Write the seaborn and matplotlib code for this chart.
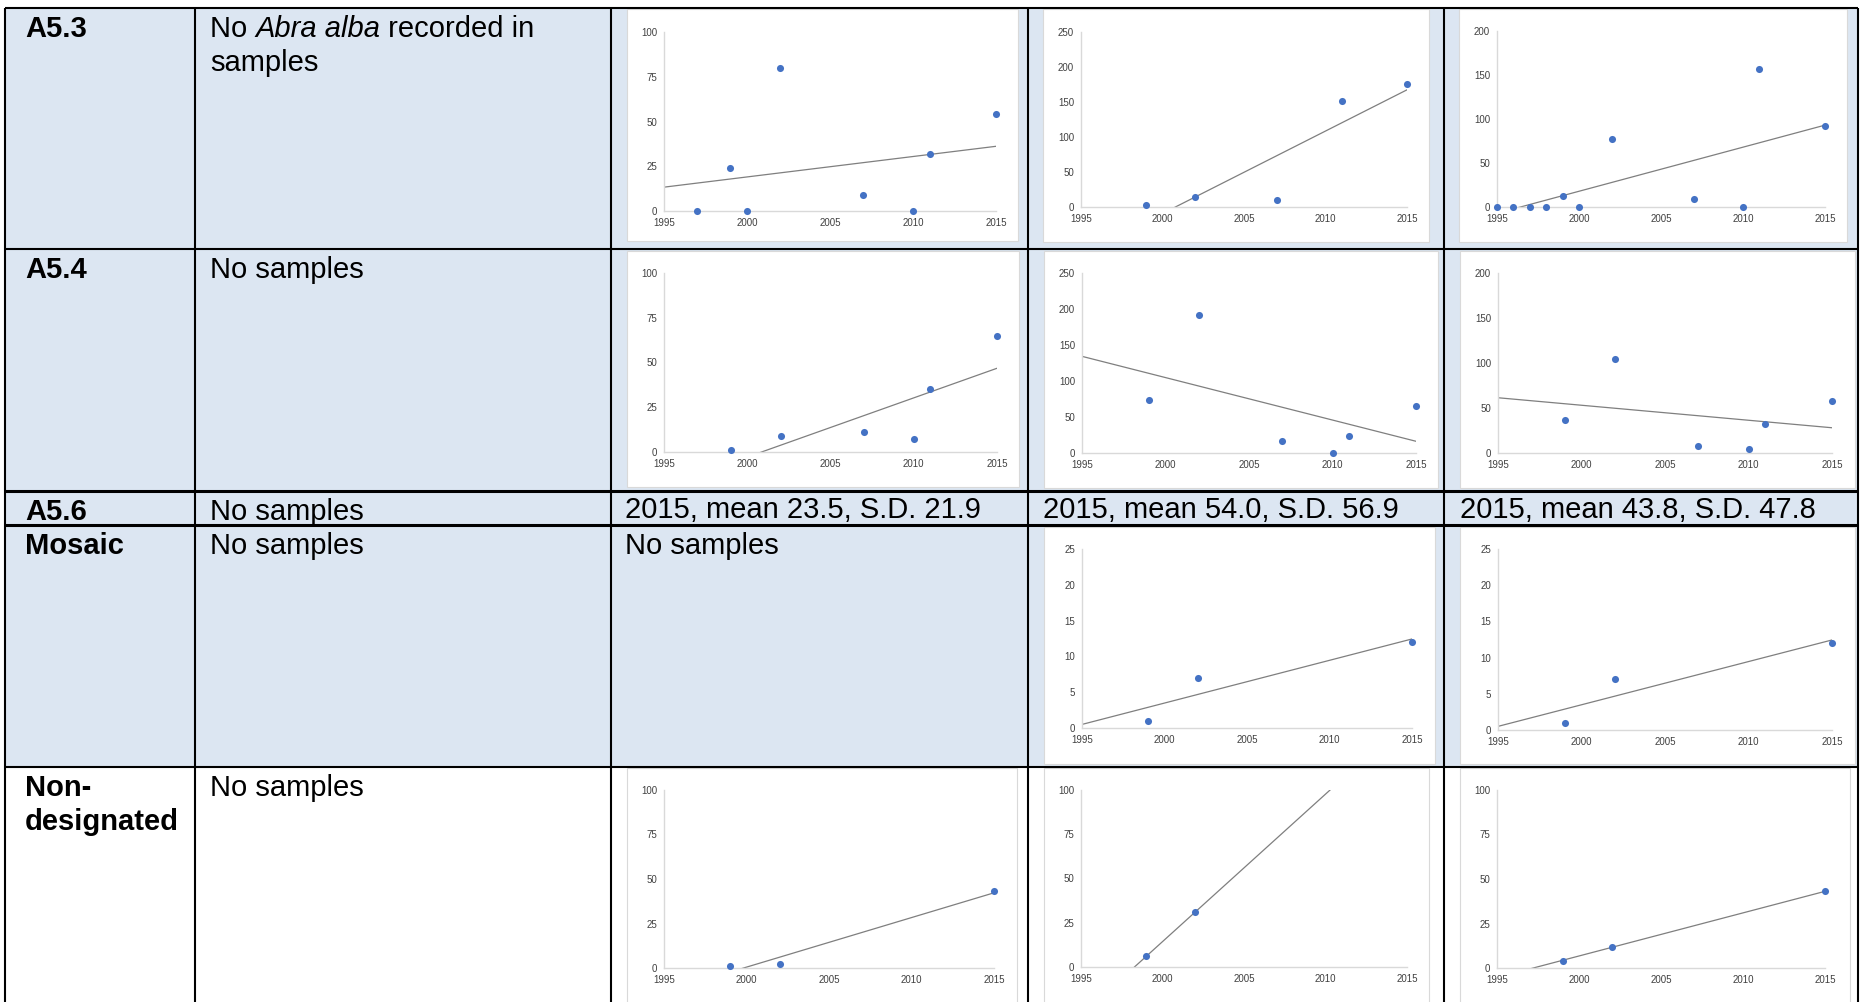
import numpy as np
import matplotlib
matplotlib.use("Agg")
import matplotlib.pyplot as plt
import seaborn as sns
from matplotlib.patches import Rectangle

# ---------------- data ----------------
row_labels = ["A5.3", "A5.4", "A5.6", "Mosaic", "Non-\ndesignated"]
a56_notes = ["2015, mean 23.5, S.D. 21.9",
             "2015, mean 54.0, S.D. 56.9",
             "2015, mean 43.8, S.D. 47.8"]

# A5.3 row
a53_c3_years = [1997, 1999, 2000, 2002, 2007, 2010, 2011, 2015]
a53_c3_vals = [0, 24, 0, 80, 9, 0, 32, 54]
a53_c4_years = [1999, 2002, 2007, 2011, 2015]
a53_c4_vals = [3, 14, 10, 151, 176]
a53_c5_years = [1995, 1996, 1997, 1998, 1999, 2000, 2002, 2007, 2010, 2011, 2015]
a53_c5_vals = [0, 0, 0, 0, 12, 0, 77, 9, 0, 157, 92]

# A5.4 row
a54_c3_years = [1999, 2002, 2007, 2010, 2011, 2015]
a54_c3_vals = [1, 9, 11, 7.5, 35, 65]
a54_c4_years = [1999, 2002, 2007, 2010, 2011, 2015]
a54_c4_vals = [73, 191, 16, 0, 24, 65]
a54_c5_years = [1999, 2002, 2007, 2010, 2011, 2015]
a54_c5_vals = [37, 105, 8, 5, 32, 58]

# Mosaic row
mosaic_c4_years = [1999, 2002, 2015]
mosaic_c4_vals = [1, 7, 12]
mosaic_c5_years = [1999, 2002, 2015]
mosaic_c5_vals = [1, 7, 12]

# Non-designated row
nondes_c3_years = [1999, 2002, 2015]
nondes_c3_vals = [1, 2, 43]
nondes_c4_years = [1999, 2002]
nondes_c4_vals = [6, 31]
nondes_c5_years = [1999, 2002, 2015]
nondes_c5_vals = [4, 12, 43]

x_ticks = [1995, 2000, 2005, 2010, 2015]

# ---------------- layout (pixels) ----------------
W, H = 1861, 1002
row_edges = [8, 249, 491, 525, 767, 1002]
col_edges = [5, 195, 611, 1028, 1444, 1858]
blue = "#DCE6F2"

# (row, col, years, values, y max, y step, chart box, plot area)
charts = [
    (0, 2, a53_c3_years, a53_c3_vals, 100, 25, (627, 9, 1018, 241), (664, 32, 996, 211)),
    (0, 3, a53_c4_years, a53_c4_vals, 250, 50, (1043, 9, 1429, 242), (1081, 32, 1407, 207)),
    (0, 4, a53_c5_years, a53_c5_vals, 200, 50, (1459, 9, 1847, 242), (1497, 31, 1825, 207)),
    (1, 2, a54_c3_years, a54_c3_vals, 100, 25, (627, 251, 1019, 487), (664, 273, 997, 452)),
    (1, 3, a54_c4_years, a54_c4_vals, 250, 50, (1044, 251, 1438, 488), (1082, 273, 1416, 453)),
    (1, 4, a54_c5_years, a54_c5_vals, 200, 50, (1460, 251, 1855, 488), (1498, 273, 1832, 453)),
    (3, 3, mosaic_c4_years, mosaic_c4_vals, 25, 5, (1044, 527, 1435, 764), (1082, 549, 1412, 728)),
    (3, 4, mosaic_c5_years, mosaic_c5_vals, 25, 5, (1460, 527, 1855, 764), (1498, 549, 1832, 730)),
    (4, 2, nondes_c3_years, nondes_c3_vals, 100, 25, (627, 768, 1017, 1010), (664, 790, 994, 968)),
    (4, 3, nondes_c4_years, nondes_c4_vals, 100, 25, (1044, 768, 1429, 1010), (1081, 790, 1407, 967)),
    (4, 4, nondes_c5_years, nondes_c5_vals, 100, 25, (1460, 768, 1850, 1010), (1497, 790, 1825, 968)),
]

sns.set_style("white")
plt.rcParams["font.family"] = ["Liberation Sans", "DejaVu Sans"]
plt.rcParams["text.color"] = "black"

fig = plt.figure(figsize=(W / 100, H / 100), dpi=100)
bg = fig.add_axes([0, 0, 1, 1])
bg.set_xlim(0, W)
bg.set_ylim(H, 0)
bg.axis("off")

# cell backgrounds: light blue except the last row
for r in range(5):
    colour = "white" if r == 4 else blue
    bg.add_patch(Rectangle((col_edges[0], row_edges[r]), col_edges[-1] - col_edges[0],
                           row_edges[r + 1] - row_edges[r], facecolor=colour, edgecolor="none"))

# white chart boxes
for r, c, yrs, vals, ymax, ystep, box, area in charts:
    bg.add_patch(Rectangle((box[0], box[1]), box[2] - box[0], box[3] - box[1],
                           facecolor="white", edgecolor="#D9D9D9", lw=0.8))

# grid lines
for x in col_edges:
    bg.plot([x, x], [row_edges[0], H], color="black", lw=1.5, solid_capstyle="butt")
for i, y in enumerate(row_edges[:-1]):
    lw = 2.2 if i in (2, 3) else 1.5
    bg.plot([col_edges[0], col_edges[-1]], [y, y], color="black", lw=lw, solid_capstyle="butt")

# texts
fs = 21
col_x = [25, 210, 625, 1043, 1460]
line_gap = 34
for r, label in enumerate(row_labels):
    base = row_edges[r] + 29
    for k, part in enumerate(label.split("\n")):
        bg.text(col_x[0], base + k * line_gap, part, fontsize=fs, fontweight="bold",
                color="black", ha="left", va="baseline")

# col 2 texts
renderer = fig.canvas.get_renderer()
x = col_x[1]
base = row_edges[0] + 29
for piece, style in [("No ", "normal"), ("Abra alba", "italic"), (" recorded in", "normal")]:
    t = bg.text(x, base, piece, fontsize=fs, style=style, color="black", ha="left", va="baseline")
    x += t.get_window_extent(renderer).width
bg.text(col_x[1], base + line_gap, "samples", fontsize=fs, color="black", ha="left", va="baseline")
for r in range(1, 5):
    bg.text(col_x[1], row_edges[r] + 29, "No samples", fontsize=fs, color="black",
            ha="left", va="baseline")
for i, note in enumerate(a56_notes):
    bg.text(col_x[2 + i], row_edges[2] + 27, note, fontsize=fs, color="black",
            ha="left", va="baseline")
bg.text(col_x[2], row_edges[3] + 29, "No samples", fontsize=fs, color="black",
        ha="left", va="baseline")

# scatter charts with linear trend lines
for r, c, yrs, vals, ymax, ystep, box, area in charts:
    x0, y0, x1, y1 = area
    ax = fig.add_axes([x0 / W, 1 - y1 / H, (x1 - x0) / W, (y1 - y0) / H])
    ax.set_facecolor("none")
    ax.set_xlim(1995, 2015)
    ax.set_ylim(0, ymax)
    sns.regplot(x=np.array(yrs, dtype=float), y=np.array(vals, dtype=float), ax=ax,
                ci=None, truncate=False,
                scatter_kws=dict(s=26, color="#4472C4", alpha=1, linewidths=0,
                                 clip_on=False, zorder=3),
                line_kws=dict(color="#7F7F7F", lw=0.9, zorder=2))
    ax.set_xlim(1995, 2015)
    ax.set_ylim(0, ymax)
    ax.set_xticks(x_ticks)
    ax.set_yticks(np.arange(0, ymax + 1, ystep))
    ax.set_xlabel("")
    ax.set_ylabel("")
    for s in ["top", "right"]:
        ax.spines[s].set_visible(False)
    for s in ["left", "bottom"]:
        ax.spines[s].set_color("#D9D9D9")
        ax.spines[s].set_linewidth(1.0)
    ax.tick_params(length=0, labelsize=7, colors="#404040", pad=5)
    ax.grid(False)

fig.savefig("out.png", dpi=100)
